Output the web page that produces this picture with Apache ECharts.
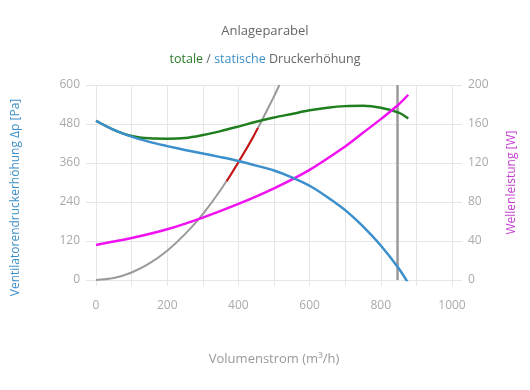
<!DOCTYPE html>
<html>
<head>
<meta charset="utf-8">
<script src="https://cdn.jsdelivr.net/npm/echarts@6/dist/echarts.min.js"></script>
<style>html,body{margin:0;padding:0;background:#fff}#c{width:530px;height:390px}</style>
</head>
<body>
<div id="c"></div>
<script>
// Volumenstrom (m³/h) sample points
const flowStatic = [0,50,100,150,200,250,300,350,400,450,500,550,600,650,700,750,800,850,877];
const staticPressure = [490,462,441,425,412,400,389,378,366,352,337,316,290,255,215,165,106,36,-10];
const flowTotal = [0,50,100,150,200,250,300,350,400,450,500,550,600,650,700,750,800,850,877];
const totalPressure = [490,462,443,436,435,437,446,458,472,487,500,511,522,530,535,536,530,515,497];
const flowPower = [0,100,200,300,400,500,600,700,750,800,850,877];
const shaftPower = [36,43,52,64,78,94,113,137,151,165,180,190];
const flowSystem = [0,50,100,150,200,250,300,350,400,450,500,515];
const systemPressure = [0,6,23,51,90,141,203,277,362,458,565,600];
const flowOperating = [367,380,400,420,440,455];
const operatingPressure = [304,326,362,399,437,468];
const flowLimit = [847,847];
const limitPressure = [0,600];
const xTicks = [0,200,400,600,800,1000];
const yLeftTicks = [0,120,240,360,480,600];
const yRightTicks = [0,40,80,120,160,200];

const zip = (a,b)=>a.map((v,i)=>[v,b[i]]);
const font = '"Open Sans", "Noto Sans", sans-serif';
const chart = echarts.init(document.getElementById('c'));
const gridColor = '#e6e6e6';
const labelColor = '#aaaaaa';
const sm = 0.35;
chart.setOption({
  animation:false,
  textStyle:{fontFamily:font},
  title:{
    text:'Anlageparabel',
    subtext:'{g|totale} {n|/} {b|statische} {n|Druckerhöhung}',
    left:'center', top:20, itemGap:15,
    textStyle:{fontSize:13,fontWeight:'normal',color:'#666',fontFamily:font},
    subtextStyle:{fontSize:12.5,color:'#666',fontFamily:font,
      rich:{g:{color:'#2a7d2a',fontSize:12.5,fontFamily:font},n:{color:'#666',fontSize:12.5,fontFamily:font},b:{color:'#3d8fc7',fontSize:12.5,fontFamily:font}}}
  },
  grid:{left:96,right:78,top:85,bottom:110},
  xAxis:{
    type:'value',min:0,max:1000,interval:100,
    name:'Volumenstrom (m³/h)',nameLocation:'middle',nameGap:73,
    nameTextStyle:{color:'#999',fontSize:13,fontFamily:font},
    axisLine:{show:false},
    axisTick:{show:true,length:6,lineStyle:{color:gridColor}},
    axisLabel:{color:labelColor,fontSize:12,margin:20,
      formatter:v=>xTicks.includes(v)?String(v):''},
    splitLine:{show:true,lineStyle:{color:gridColor}}
  },
  yAxis:[{
    type:'value',min:0,max:600,interval:120,
    name:'Ventilatorendruckerhöhung Δp [Pa]',nameLocation:'middle',nameGap:74,
    nameTextStyle:{color:'#3d8fc7',fontSize:12,fontFamily:font,padding:[0,0,0,-30]},
    axisLine:{show:false},
    axisTick:{show:true,length:10,lineStyle:{color:gridColor}},
    axisLabel:{color:labelColor,fontSize:12,margin:16,
      formatter:v=>yLeftTicks.includes(v)?String(v):''},
    splitLine:{show:true,lineStyle:{color:gridColor}}
  },{
    type:'value',min:0,max:200,interval:40,
    name:'Wellenleistung [W]',nameLocation:'middle',nameGap:54,
    nameTextStyle:{color:'#c23ccf',fontSize:12,fontFamily:font},
    axisLine:{show:false},
    axisTick:{show:true,length:10,lineStyle:{color:gridColor}},
    axisLabel:{color:labelColor,fontSize:12,margin:16,
      formatter:v=>yRightTicks.includes(v)?String(v):''},
    splitLine:{show:false}
  }],
  series:[
    {type:'line',data:zip(flowSystem,systemPressure),smooth:sm,symbol:'none',lineStyle:{color:'#9a9a9a',width:2},z:2},
    {type:'line',data:zip(flowOperating,operatingPressure),smooth:sm,symbol:'none',lineStyle:{color:'#cc1111',width:2},z:3},
    {type:'line',data:zip(flowLimit,limitPressure),symbol:'none',lineStyle:{color:'#9a9a9a',width:2.5},z:2},
    {type:'line',data:zip(flowTotal,totalPressure),smooth:sm,symbol:'none',lineStyle:{color:'#1f7f1f',width:2.5},z:4},
    {type:'line',data:zip(flowStatic,staticPressure),smooth:sm,symbol:'none',lineStyle:{color:'#3a8fcc',width:2.5},z:5},
    {type:'line',yAxisIndex:1,data:zip(flowPower,shaftPower),smooth:sm,symbol:'none',lineStyle:{color:'#f012f0',width:2.5},z:4}
  ]
});
</script>
</body>
</html>
